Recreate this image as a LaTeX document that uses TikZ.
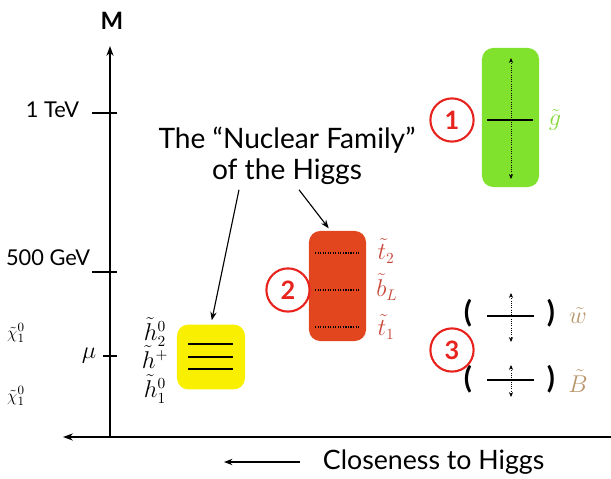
\documentclass[tikz,border=0pt]{standalone}
\usepackage{fontspec}
\setsansfont{Lato}
\usetikzlibrary{arrows.meta}
\definecolor{gluino}{HTML}{80E22C}
\definecolor{higgsino}{HTML}{F8F000}
\definecolor{stop}{HTML}{E2461E}
\definecolor{ring}{HTML}{E8231E}
\definecolor{stoplbl}{HTML}{C8473A}
\definecolor{gluinolbl}{HTML}{86D93A}
\definecolor{ewlbl}{HTML}{B8956A}

\tikzset{
  axis/.style={line width=1.3pt,-{Stealth[length=7pt,width=5pt]}},
  tick/.style={line width=0.9pt},
  partbox/.style={rounded corners=8pt,inner sep=0pt},
  level/.style={line width=1pt},
  dotlevel/.style={line width=0.8pt,densely dotted},
  spread/.style={densely dotted,line width=0.6pt,{Stealth[length=3.5pt,width=3pt]}-{Stealth[length=3.5pt,width=3pt]}},
  numring/.style={circle,draw=ring,line width=1.5pt,text=ring,inner sep=0pt,minimum size=1.08cm,font=\sffamily\bfseries\fontsize{18}{18}\selectfont},
  pointer/.style={line width=0.8pt,-{Stealth[length=6pt,width=4.5pt]}},
  axlabel/.style={font=\sffamily\fontsize{15.5}{17}\selectfont},
  sparticle/.style={font=\fontsize{16}{18}\selectfont},
  paren/.style={font=\sffamily\bfseries\fontsize{21}{21}\selectfont}
}

\begin{document}
\begin{tikzpicture}[x=0.025cm,y=-0.025cm]
\useasboundingbox (0,0) rectangle (611,479);

% axes
\coordinate (origin) at (110,437);
\coordinate (mtip) at (110,46);
\coordinate (xright) at (611,437);
\coordinate (xleft) at (63,437);
\draw[axis] (origin) -- (mtip);
\draw[axis] (xright) -- (xleft);
\node[font=\sffamily\bfseries\fontsize{17}{17}\selectfont] (mlabel) at (112,21) {M};

% ticks
\draw[tick] (92,113) -- (117,113);
\draw[tick] (92,272) -- (117,272);
\draw[tick] (103,356) -- (117,356);
\node[axlabel,anchor=east] (tev) at (84,110) {1 TeV};
\node[axlabel,anchor=east] (gev) at (95,258) {500 GeV};
\node[font=\fontsize{18}{18}\selectfont] (mu) at (89,356) {$\mu$};
\node[font=\fontsize{12.5}{14}\selectfont] (chia) at (16,333) {$\tilde\chi^0_1$};
\node[font=\fontsize{12.5}{14}\selectfont] (chib) at (16,396) {$\tilde\chi^0_1$};

% higgsinos
\node[partbox,fill=higgsino,minimum width=1.7cm,minimum height=1.62cm] (hbox) at (211,357) {};
\draw[level] (188,344) -- (233,344);
\draw[level] (188,357) -- (233,357);
\draw[level] (188,369) -- (233,369);
\node[sparticle] (h2) at (155,332) {$\tilde h^0_2$};
\node[sparticle] (hp) at (155,357) {$\tilde h^+$};
\node[sparticle] (h1) at (155,389) {$\tilde h^0_1$};

% stops and sbottom
\node[partbox,fill=stop,minimum width=1.425cm,minimum height=2.75cm] (sbox) at (337.5,286) {};
\draw[dotlevel] (315,253) -- (360,253);
\draw[dotlevel] (315,290) -- (360,290);
\draw[dotlevel] (315,327) -- (360,327);
\node[sparticle,text=stoplbl] (t2) at (386,251) {$\tilde t_2$};
\node[sparticle,text=stoplbl] (bl) at (387,287) {$\tilde b_L$};
\node[sparticle,text=stoplbl] (t1) at (386,327) {$\tilde t_1$};
\node[numring] (two) at (288,290) {2};

% gluino
\node[partbox,fill=gluino,minimum width=1.425cm,minimum height=3.475cm] (gbox) at (510.5,117.5) {};
\draw[level] (487,120) -- (533,120);
\draw[spread] (511,58) -- (511,179);
\node[font=\fontsize{19}{19}\selectfont,text=gluinolbl] (gl) at (555,120) {$\tilde g$};
\node[numring] (one) at (452,120) {1};

% winos and binos
\node[paren] (wl) at (468,313) {(};
\node[paren] (wr) at (551,313) {)};
\draw[level] (487,316) -- (534,316);
\draw[spread] (511,293) -- (511,342);
\node[sparticle,text=ewlbl] (wino) at (578,316) {$\tilde w$};
\node[paren] (bl2) at (468,379) {(};
\node[paren] (br) at (551,379) {)};
\draw[level] (487,380) -- (534,380);
\draw[spread] (511,365) -- (511,397);
\node[sparticle,text=ewlbl] (bino) at (578,381) {$\tilde B$};
\node[numring] (three) at (452,350) {3};

% the family
\node[align=center,font=\sffamily\fontsize{20}{22}\selectfont] (family) at (287,156) {The “Nuclear Family”\\of the Higgs};
\draw[pointer] ([xshift=-1.2cm]family.south) -- ([xshift=0.02cm,yshift=0.1cm]hbox.north);
\draw[pointer] ([xshift=0.3cm]family.south) -- ([xshift=-0.22cm,yshift=0.06cm]sbox.north);

% closeness
\node[font=\sffamily\fontsize{19}{21}\selectfont,anchor=west] (closeness) at (318,462) {Closeness to Higgs};
\coordinate (clend) at (224,462);
\draw[pointer] ([xshift=-0.45cm]closeness.west) -- (clend);
\end{tikzpicture}
\end{document}
